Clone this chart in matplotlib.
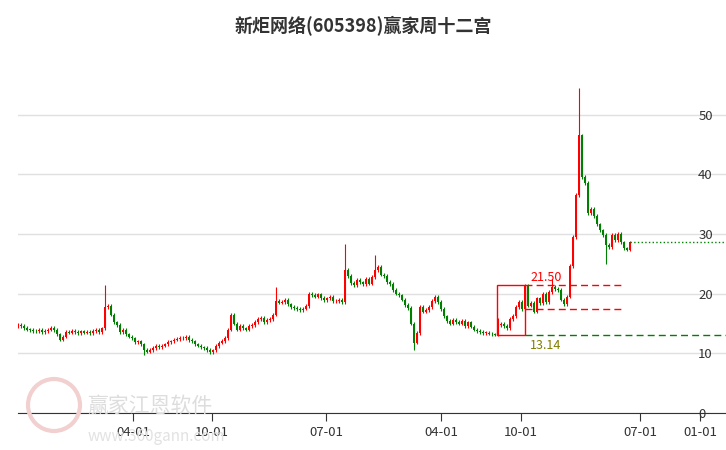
import numpy as np
import matplotlib.pyplot as plt
from matplotlib.patches import Rectangle, Circle

plt.rcParams['font.family'] = ['Noto Sans CJK SC', 'DejaVu Sans']

# weekly closes
closes = [14.8,14.6,14.3,14.0,13.9,13.8,13.7,13.9,13.6,13.8,
          14.0,14.3,13.9,13.2,12.3,12.8,13.6,13.5,13.8,13.6,
          13.4,13.7,13.5,13.6,13.4,13.8,13.9,13.6,14.2,17.8,
          17.9,16.5,15.2,14.8,13.6,13.9,13.2,12.8,12.5,11.9,
          12.0,11.5,10.6,10.3,10.6,10.9,11.2,11.0,11.3,11.5,
          11.9,12.0,12.3,12.4,12.6,12.5,12.7,12.2,12.0,11.5,
          11.3,11.0,10.9,10.6,10.2,10.5,11.2,11.8,12.1,12.6,
          14.0,16.5,15.0,14.0,14.6,14.2,14.0,14.6,14.8,15.3,
          15.8,16.0,15.3,15.6,15.8,16.5,18.8,18.5,18.6,19.0,
          18.2,17.8,17.6,17.4,17.2,17.5,17.9,20.0,19.8,19.5,
          19.9,19.3,18.9,19.2,19.4,18.7,18.8,18.9,18.6,24.0,
          23.0,21.8,21.4,22.3,21.9,21.6,22.5,21.7,22.8,24.0,
          24.5,23.2,23.0,22.0,21.6,20.6,20.0,19.7,19.0,18.1,
          17.6,15.0,11.8,13.4,17.8,17.0,17.3,17.8,18.8,19.5,
          18.6,17.4,16.2,15.4,15.0,15.6,15.3,15.0,15.4,14.6,
          15.2,14.5,14.0,13.8,13.6,13.4,13.5,13.3,13.2,13.14,
          14.8,15.0,14.6,14.2,15.8,16.3,17.8,18.6,17.4,21.3,
          18.0,18.4,17.0,19.2,18.4,20.0,18.6,20.3,21.2,20.8,
          20.6,19.0,18.3,19.5,24.6,29.5,36.5,46.5,39.5,38.5,
          33.5,34.2,33.0,31.6,30.6,29.8,28.2,27.8,29.8,29.0,
          30.0,28.6,27.6,27.4,28.6]
first_open = 14.5
high_spikes = {29: 21.4, 86: 21.2, 109: 28.3, 119: 26.5, 187: 54.5, 160: 16.0, 178: 22.5}
low_spikes = {132: 10.5, 196: 25.0, 42: 9.8, 64: 9.9}

box_low = 13.14
box_high = 21.50
support = 17.4
last_price = 28.6
# tick positions in week index (the chart's x axis is by bar, not by calendar)
tick_pos = [38.3, 64.7, 102.7, 141.0, 167.7, 207.3, 227.3]
tick_labels = ['04-01', '10-01', '07-01', '04-01', '10-01', '07-01', '01-01']

opens = [first_open] + closes[:-1]
n = len(closes)

fig = plt.figure(figsize=(7.26, 4.5), dpi=100)
ax = fig.add_axes([0.0248, 0.082, 0.9752, 0.796])
w = 0.75
for i in range(n):
    o, c = opens[i], closes[i]
    col = '#ff0000' if c >= o else '#008000'
    hi = high_spikes.get(i, max(o, c) + 0.3)
    lo = low_spikes.get(i, min(o, c) - 0.3)
    ax.vlines(i, lo, hi, color=col, lw=0.8)
    ax.add_patch(Rectangle((i - w / 2, min(o, c)), w, max(abs(c - o), 0.12), color=col, lw=0))

xmax = 236
ax.add_patch(Rectangle((159.6, box_low), 9.4, box_high - box_low, fill=False, ec='#ff0000', lw=1))
ax.hlines([box_high, support], 169, 202, colors='#ff0000', linestyles=(0, (5, 3)), lw=1)
ax.hlines(box_low, 169, xmax, colors='#008000', linestyles=(0, (5, 3)), lw=1)
ax.hlines(last_price, n - 1, xmax, colors='#008000', linestyles=':', lw=1)
ax.text(176, box_high + 0.6, '%.2f' % box_high, color='#ff0000', fontsize=9, ha='center')
ax.text(176, box_low - 0.8, '%.2f' % box_low, color='#808000', fontsize=9, ha='center', va='top')

ax.set_xlim(0, xmax)
ax.set_ylim(0, 60)
ax.set_yticks([0, 10, 20, 30, 40, 50])
ax.yaxis.tick_right()
ax.tick_params(axis='y', length=0, pad=-20, labelsize=9.5, labelcolor='#333333')
ax.grid(axis='y', color='#e0e0e0', lw=1)
ax.set_xticks(tick_pos)
ax.set_xticklabels(tick_labels, fontsize=9.5, color='#333333')
ax.tick_params(axis='x', length=6, color='#333333')
for s in ['top', 'right', 'left']:
    ax.spines[s].set_visible(False)
ax.spines['bottom'].set_color('#333333')
ax.set_axisbelow(True)

# watermark
fig.patches.append(Circle((54, 45), 26, transform=None, fill=False, ec='#f2d0d0', lw=3))
fig.text(0.12, 0.085, '赢家江恩软件', fontsize=15, color='#dddddd', zorder=0)
fig.text(0.12, 0.02, 'www.360gann.com', fontsize=11, color='#e2e2e2', zorder=0)

fig.suptitle('新炬网络(605398)赢家周十二宫', fontsize=13, fontweight='bold', y=0.965, color='#333333')
fig.savefig('out.png', dpi=100)
